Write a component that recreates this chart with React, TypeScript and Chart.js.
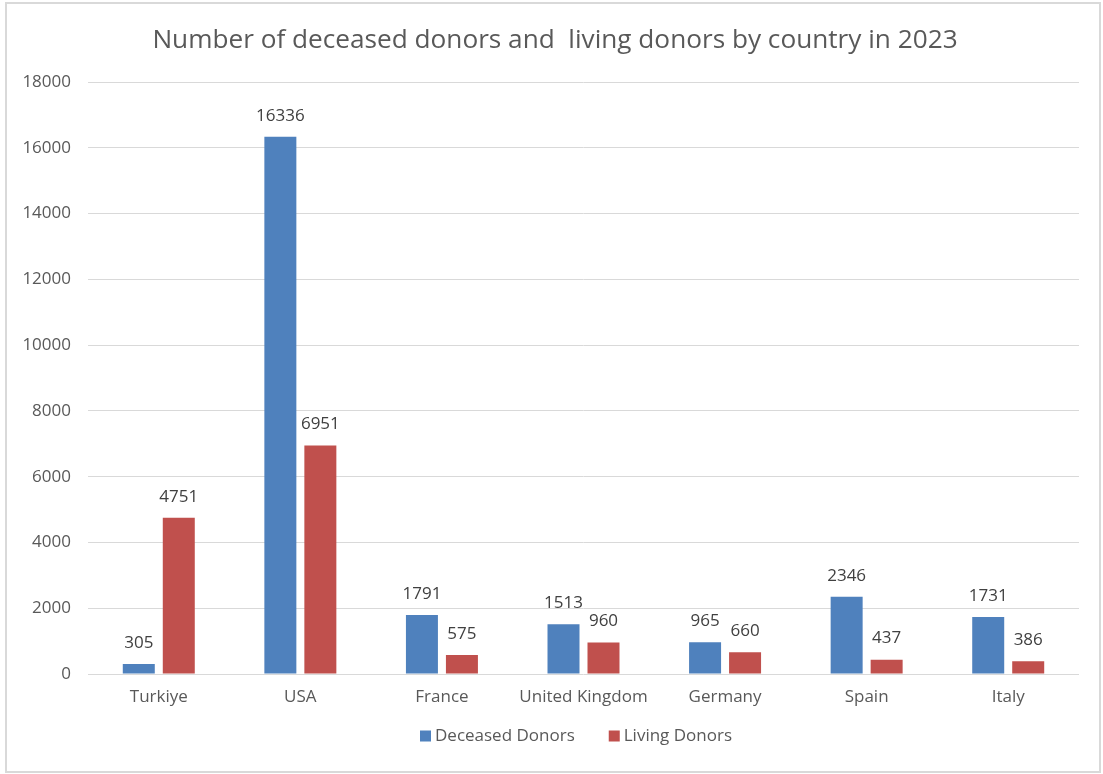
import React, { useEffect, useRef } from "react";
import { Chart, registerables } from "chart.js";

Chart.register(...registerables);

const categories = ["Turkiye", "USA", "France", "United Kingdom", "Germany", "Spain", "Italy"];
const deceasedDonors = [305, 16336, 1791, 1513, 965, 2346, 1731];
const livingDonors = [4751, 6951, 575, 960, 660, 437, 386];
const yTickMax = 18000;
const yTickStep = 2000;
const titleText = "Number of deceased donors and  living donors by country in 2023";

const FONT = "'Open Sans', 'Noto Sans', sans-serif";

const valueLabels = {
  id: "valueLabels",
  afterDatasetsDraw(chart: any) {
    const ctx = chart.ctx;
    ctx.save();
    ctx.font = `17px ${FONT}`;
    ctx.fillStyle = "#404040";
    ctx.textAlign = "center";
    ctx.textBaseline = "middle";
    chart.data.datasets.forEach((ds: any, i: number) => {
      const meta = chart.getDatasetMeta(i);
      meta.data.forEach((bar: any, j: number) => {
        ctx.fillText(String(ds.data[j]), bar.x, bar.y - 21);
      });
    });
    ctx.restore();
  },
};

const customTitle = {
  id: "customTitle",
  afterDraw(chart: any) {
    const ctx = chart.ctx;
    ctx.save();
    ctx.font = `26.2px ${FONT}`;
    ctx.fillStyle = "#595959";
    ctx.textAlign = "center";
    ctx.textBaseline = "middle";
    ctx.fillText(titleText, 548, 37);
    ctx.restore();
  },
};

const customLegend = {
  id: "customLegend",
  afterDraw(chart: any) {
    const ctx = chart.ctx;
    ctx.save();
    ctx.font = `17px ${FONT}`;
    ctx.textBaseline = "middle";
    ctx.textAlign = "left";
    const y = 732;
    let x = 413;
    chart.data.datasets.forEach((ds: any) => {
      ctx.fillStyle = ds.backgroundColor;
      ctx.fillRect(x, y - 5.5, 11, 11);
      ctx.fillStyle = "#595959";
      ctx.fillText(ds.label, x + 15, y);
      x += 15 + ctx.measureText(ds.label).width + 34;
    });
    ctx.restore();
  },
};

export default function App() {
  const ref = useRef<HTMLCanvasElement>(null);
  useEffect(() => {
    document.body.style.margin = "0";
    const chart = new Chart(ref.current!, {
      type: "bar",
      data: {
        labels: categories,
        datasets: [
          { label: "Deceased Donors", data: deceasedDonors, backgroundColor: "#4F81BD", categoryPercentage: 0.565, barPercentage: 0.8 },
          { label: "Living Donors", data: livingDonors, backgroundColor: "#C0504D", categoryPercentage: 0.565, barPercentage: 0.8 },
        ],
      },
      options: {
        animation: false,
        responsive: false,
        maintainAspectRatio: false,
        layout: { padding: { left: 0, right: 20, top: 78, bottom: 54 } },
        plugins: {
          title: { display: false },
          legend: { display: false },
          tooltip: { enabled: false },
        },
        scales: {
          x: {
            grid: { display: false },
            border: { display: false },
            ticks: { color: "#595959", font: { family: FONT, size: 17 }, padding: 5 },
            afterFit(scale: any) { scale.height = 43; },
          },
          y: {
            min: 0,
            max: yTickMax,
            grid: { color: "#d9d9d9", drawTicks: false },
            border: { display: false },
            ticks: {
              stepSize: yTickStep,
              color: "#595959",
              font: { family: FONT, size: 17 },
              padding: 17,
              callback: (v: any) => String(v),
            },
            afterFit(scale: any) { scale.width = 81; },
          },
        },
      },
      plugins: [valueLabels, customTitle, customLegend],
    });
    return () => chart.destroy();
  }, []);
  return (
    <div style={{ position: "absolute", left: 5, top: 2, width: 1096, height: 771, border: "2px solid #d9d9d9", boxSizing: "border-box", background: "#fff" }}>
      <canvas ref={ref} width={1092} height={767} style={{ display: "block" }} />
    </div>
  );
}
